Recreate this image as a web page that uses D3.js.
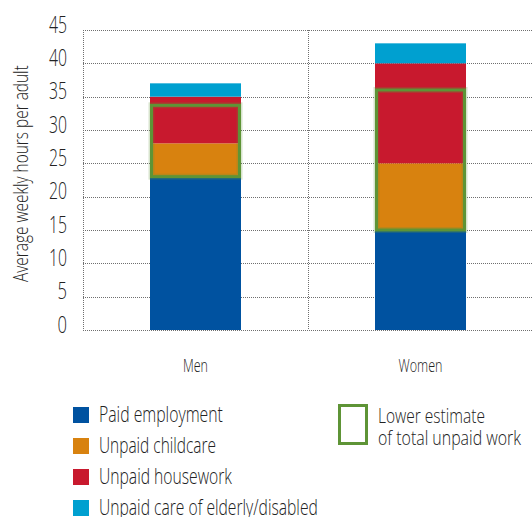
<!DOCTYPE html>
<html>
<head>
<meta charset="utf-8">
<script src="https://cdn.jsdelivr.net/npm/d3@7"></script>
<style>
  html, body { margin: 0; padding: 0; background: #fff; }
  svg text { font-family: "Open Sans", "Noto Sans", sans-serif; font-weight: 300; fill: #222; }
</style>
</head>
<body>
<svg id="chart" width="532" height="517"></svg>
<script>
// Weekly hours per adult, split by type of work
const groups = ["Men", "Women"];
const seriesNames = ["Paid employment", "Unpaid childcare", "Unpaid housework", "Unpaid care of elderly/disabled"];
const paidEmployment = [23, 15];
const unpaidChildcare = [5, 10];
const unpaidHousework = [7, 15];
const unpaidElderly = [2, 3];
// Lower estimate of total unpaid work (hours), drawn on top of paid employment
const lowerEstimate = [10.7, 21];
const yTicks = [0, 5, 10, 15, 20, 25, 30, 35, 40, 45];
const estimateLabel = ["Lower estimate", "of total unpaid work"];
const yTitle = "Average weekly hours per adult";
const colors = ["#0052a0", "#d8820f", "#c8192e", "#00a0d0"];
const estimateColor = "#5e9436";

// Target widths (px) that give the narrow, condensed typeface look
const legendWidths = [124, 117, 133, 219];
const estimateWidths = [107, 143];
const groupWidths = [25, 44];

const svg = d3.select("#chart");
const W = 532;
const plotLeft = 83;

const x = d3.scaleBand().domain(groups).range([plotLeft, W + 1]).paddingInner(0).paddingOuter(0);
const y = d3.scaleLinear().domain([0, 45]).range([330, 30]);
const barW = 91;

// Squeeze a text horizontally to a given width, placed at (tx, ty) with an optional rotation
function condense(textSel, width, tx, ty, rot) {
  textSel.each(function () {
    const natural = this.getComputedTextLength();
    const k = natural > 0 ? width / natural : 1;
    const r = rot ? ` rotate(${rot})` : "";
    d3.select(this).attr("x", 0).attr("y", 0)
      .attr("transform", `translate(${tx},${ty})${r} scale(${k},1)`);
  });
  return textSel;
}

// grid
const grid = svg.append("g");
grid.selectAll("line.h").data(yTicks).join("line")
  .attr("x1", plotLeft).attr("x2", W)
  .attr("y1", d => Math.round(y(d)) + 0.5).attr("y2", d => Math.round(y(d)) + 0.5)
  .attr("stroke", "#6f6f6f").attr("stroke-dasharray", "1,1");
grid.selectAll("line.v").data([plotLeft, x("Women")]).join("line")
  .attr("x1", d => Math.round(d) + 0.5).attr("x2", d => Math.round(d) + 0.5)
  .attr("y1", y(45)).attr("y2", y(0))
  .attr("stroke", "#6f6f6f").attr("stroke-dasharray", "1,1");

// y axis labels
const yAxis = d3.axisLeft(y).tickValues(yTicks).tickSize(0).tickPadding(0);
const yg = svg.append("g").attr("transform", "translate(67,0)").call(yAxis);
yg.select(".domain").remove();
yg.selectAll("text")
  .attr("font-size", 23).attr("fill", "#222").attr("dy", "0.1em")
  .style("font-family", "\"Open Sans\", \"Noto Sans\", sans-serif")
  .style("font-weight", 300)
  .each(function (d) {
    const natural = this.getComputedTextLength();
    const target = String(d).length > 1 ? 18 : 9.5;
    d3.select(this).attr("transform", `scale(${target / natural},1)`);
  });

condense(svg.append("text").attr("font-size", 21).text(yTitle), 217, 28, 282, -90);

// stacked bars
const rows = groups.map((g, i) => ({
  group: g,
  s0: paidEmployment[i], s1: unpaidChildcare[i], s2: unpaidHousework[i], s3: unpaidElderly[i]
}));
const stack = d3.stack().keys(["s0", "s1", "s2", "s3"]);
const layers = stack(rows);
const cx = g => x(g) + x.bandwidth() / 2;

svg.append("g").selectAll("g").data(layers).join("g")
  .attr("fill", (d, i) => colors[i])
  .selectAll("rect").data(d => d).join("rect")
  .attr("x", d => cx(d.data.group) - barW / 2)
  .attr("width", barW)
  .attr("y", d => y(d[1]))
  .attr("height", d => y(d[0]) - y(d[1]));

// lower estimate outline (soft halo + solid frame)
const est = svg.append("g");
[{ w: 6, o: 0.25 }, { w: 3, o: 1 }].forEach(s => {
  est.append("g").selectAll("rect").data(groups).join("rect")
    .attr("x", g => cx(g) - barW / 2 + 1.5)
    .attr("width", barW - 3)
    .attr("y", (g, i) => y(paidEmployment[i] + lowerEstimate[i]))
    .attr("height", (g, i) => y(paidEmployment[i]) - y(paidEmployment[i] + lowerEstimate[i]))
    .attr("fill", "none").attr("stroke", estimateColor)
    .attr("stroke-opacity", s.o).attr("stroke-width", s.w);
});

// category labels
const catG = svg.append("g");
groups.forEach((g, i) => {
  condense(catG.append("text").attr("font-size", 19).attr("text-anchor", "middle").text(g),
    groupWidths[i], cx(g), 372);
});

// legend
const leg = svg.append("g");
seriesNames.forEach((name, i) => {
  const yy = 407 + i * 31;
  leg.append("rect").attr("x", 73).attr("y", yy).attr("width", 16).attr("height", 16).attr("fill", colors[i]);
  condense(leg.append("text").attr("font-size", 22).text(name), legendWidths[i], 99, yy + 15);
});
leg.append("rect").attr("x", 339.5).attr("y", 405.5).attr("width", 27).attr("height", 38)
  .attr("fill", "none").attr("stroke", estimateColor).attr("stroke-width", 3);
estimateLabel.forEach((t, i) => {
  condense(leg.append("text").attr("font-size", 21).text(t), estimateWidths[i], 378, 423 + i * 22);
});
</script>
</body>
</html>
